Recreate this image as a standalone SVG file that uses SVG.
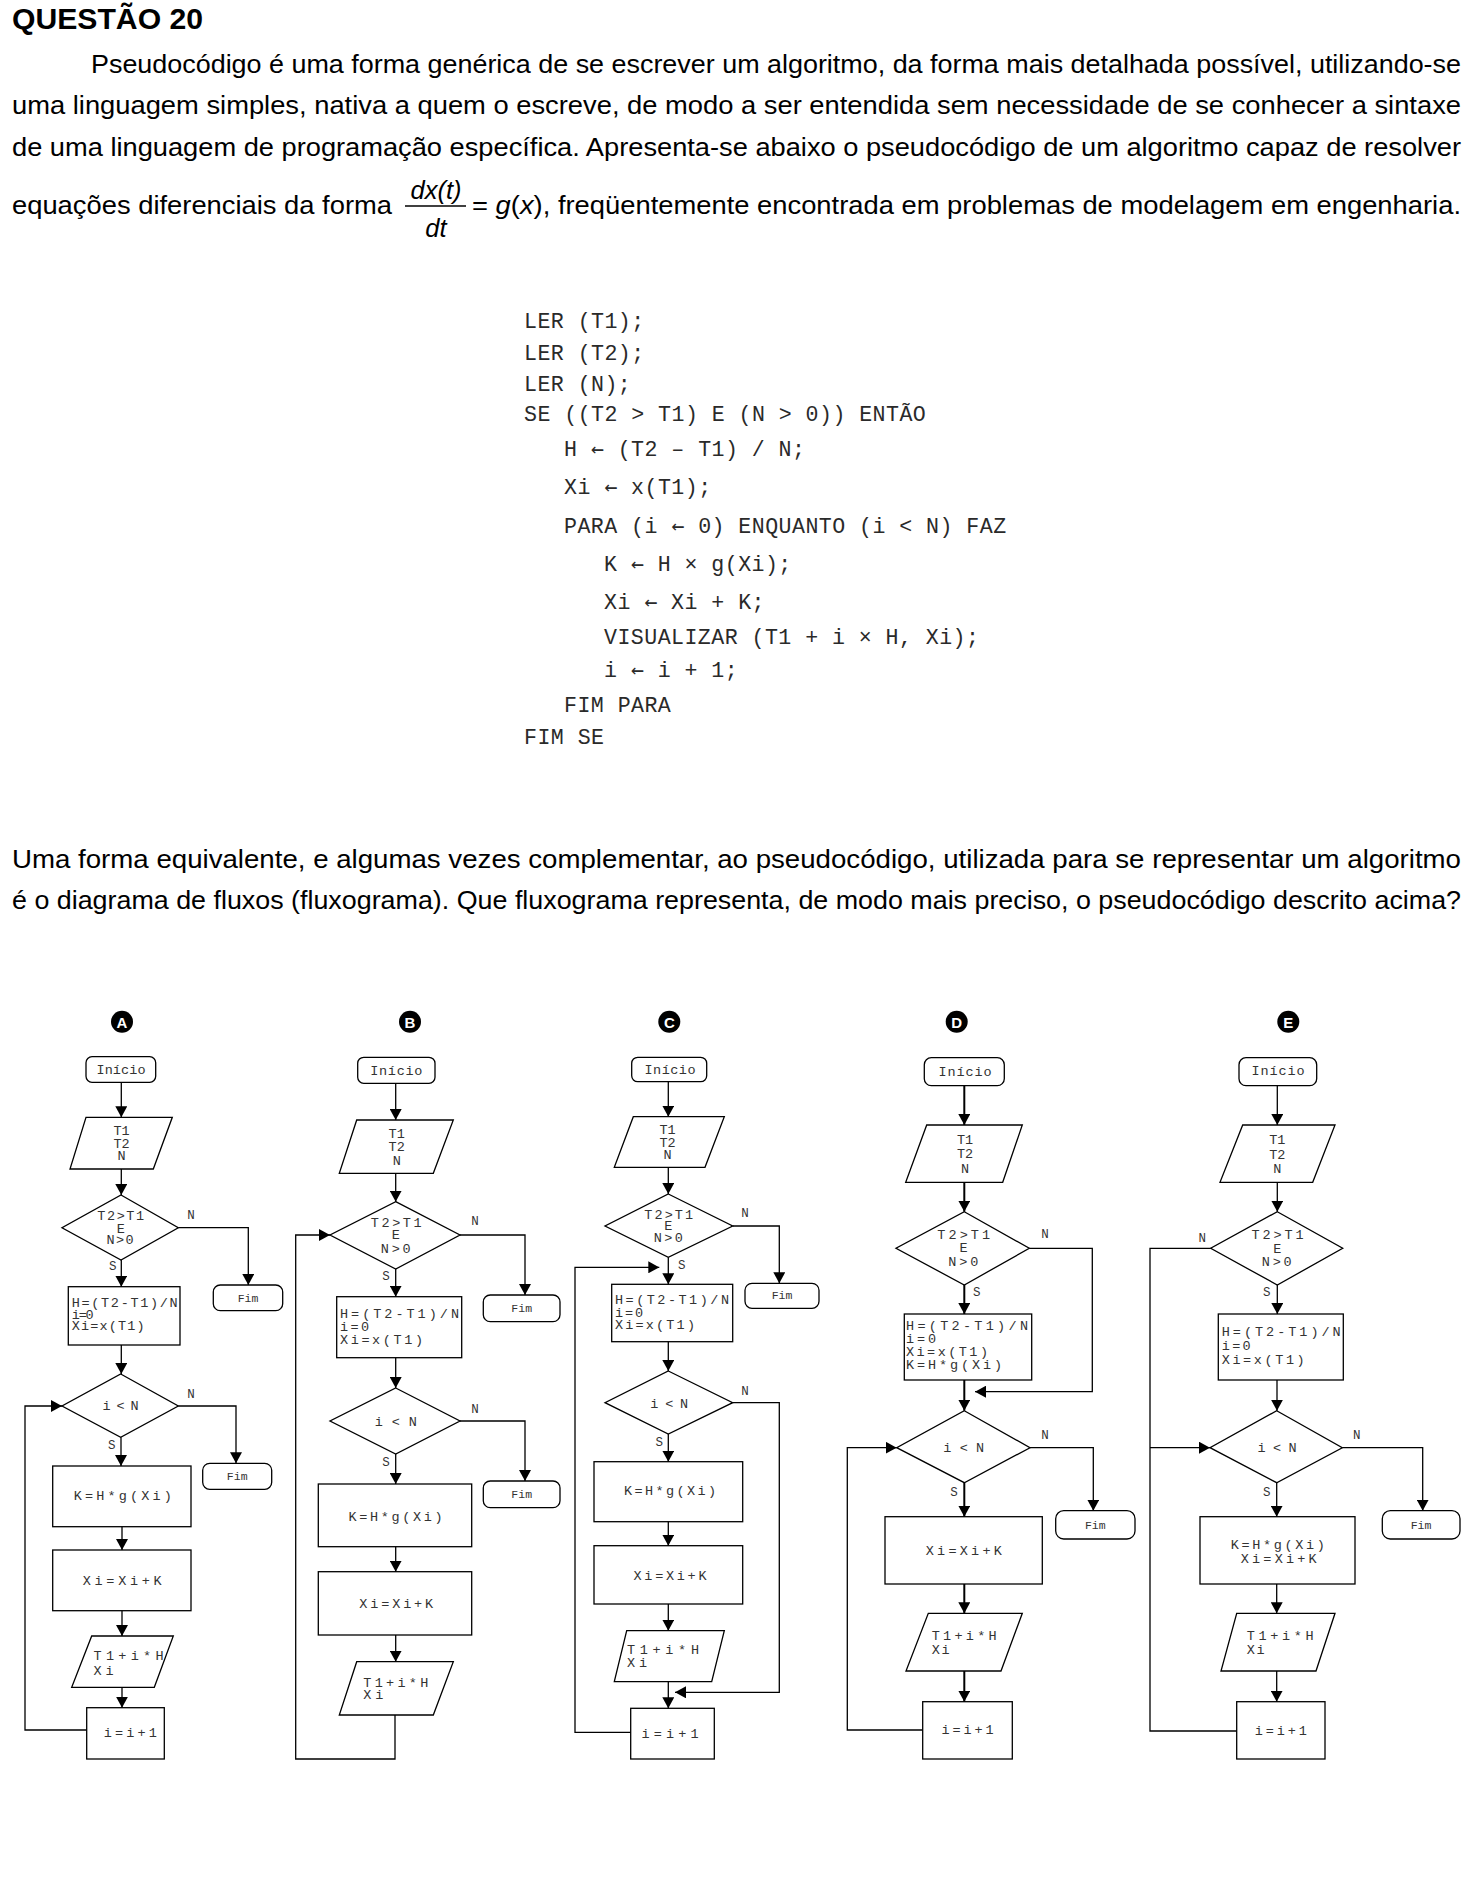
<svg xmlns="http://www.w3.org/2000/svg" width="1472" height="1894" viewBox="0 0 1472 1894">
<defs>
<marker id="ah" viewBox="0 0 11 12" refX="11" refY="6" markerWidth="11" markerHeight="12" markerUnits="userSpaceOnUse" orient="auto"><path d="M0,0 L11,6 L0,12 z" fill="#000"/></marker>
</defs>
<style>
.h{font-family:"Liberation Sans",Arial,sans-serif;font-size:25.5px;fill:#000}
.hb{font-weight:bold;font-size:29px}
.code{font-family:"Liberation Mono","DejaVu Sans Mono",monospace;font-size:21.6px;letter-spacing:0.45px;fill:#2a2a2a}
.ar{font-family:"DejaVu Sans Mono",monospace}
.n{fill:#fff;stroke:#000;stroke-width:1.3}
.t{font-family:"Liberation Mono","DejaVu Sans Mono",monospace;font-size:13.5px;fill:#333;dominant-baseline:central}
.m{text-anchor:middle}
.s{font-size:11.5px}
.lb{font-family:"Liberation Mono","DejaVu Sans Mono",monospace;font-size:12.5px;fill:#333;text-anchor:middle;dominant-baseline:central}
.e{fill:none;stroke:#000;stroke-width:1.3;marker-end:url(#ah)}
.w{stroke-width:2}
.ln{fill:none;stroke:#000;stroke-width:1.3}
.cl{fill:#000}
.ct{font-family:"Liberation Sans",Arial,sans-serif;font-weight:bold;font-size:15px;fill:#fff;text-anchor:middle;dominant-baseline:central}
</style>
<rect width="1472" height="1894" fill="#fff"/>

<g id="header">
<text class="h hb" x="12" y="29" textLength="191" lengthAdjust="spacingAndGlyphs">QUESTÃO 20</text>
<text class="h" x="91" y="73" textLength="1370" lengthAdjust="spacingAndGlyphs">Pseudocódigo é uma forma genérica de se escrever um algoritmo, da forma mais detalhada possível, utilizando-se</text>
<text class="h" x="12" y="114" textLength="1449" lengthAdjust="spacingAndGlyphs">uma linguagem simples, nativa a quem o escreve, de modo a ser entendida sem necessidade de se conhecer a sintaxe</text>
<text class="h" x="12" y="156" textLength="1449" lengthAdjust="spacingAndGlyphs">de uma linguagem de programação específica. Apresenta-se abaixo o pseudocódigo de um algoritmo capaz de resolver</text>
<text class="h" x="12" y="214" textLength="380" lengthAdjust="spacingAndGlyphs">equações diferenciais da forma</text>
<text class="h" x="436" y="199" text-anchor="middle" font-style="italic">dx(t)</text>
<line x1="405" y1="206" x2="466" y2="206" stroke="#000" stroke-width="1.3"/>
<text class="h" x="436" y="237" text-anchor="middle" font-style="italic">dt</text>
<text class="h" x="472" y="214" textLength="989" lengthAdjust="spacingAndGlyphs">= <tspan font-style="italic">g</tspan>(<tspan font-style="italic">x</tspan>), freqüentemente encontrada em problemas de modelagem em engenharia.</text>
</g>

<g id="pseudocode" class="code">
<text x="524" y="328">LER (T1);</text>
<text x="524" y="360">LER (T2);</text>
<text x="524" y="391">LER (N);</text>
<text x="524" y="421">SE ((T2 &gt; T1) E (N &gt; 0)) ENTÃO</text>
<text x="564" y="456">H <tspan class="ar">←</tspan> (T2 – T1) / N;</text>
<text x="564" y="494">Xi <tspan class="ar">←</tspan> x(T1);</text>
<text x="564" y="533">PARA (i <tspan class="ar">←</tspan> 0) ENQUANTO (i &lt; N) FAZ</text>
<text x="604" y="571">K <tspan class="ar">←</tspan> H × g(Xi);</text>
<text x="604" y="609">Xi <tspan class="ar">←</tspan> Xi + K;</text>
<text x="604" y="644">VISUALIZAR (T1 + i × H, Xi);</text>
<text x="604" y="677">i <tspan class="ar">←</tspan> i + 1;</text>
<text x="564" y="712">FIM PARA</text>
<text x="524" y="744">FIM SE</text>
</g>

<g id="question">
<text class="h" x="12" y="868" textLength="1449" lengthAdjust="spacingAndGlyphs">Uma forma equivalente, e algumas vezes complementar, ao pseudocódigo, utilizada para se representar um algoritmo</text>
<text class="h" x="12" y="909" textLength="1449" lengthAdjust="spacingAndGlyphs">é o diagrama de fluxos (fluxograma). Que fluxograma representa, de modo mais preciso, o pseudocódigo descrito acima?</text>
</g>

<!-- ===== A ===== -->
<g id="A-label"><circle class="cl" cx="122" cy="1021.7" r="11"/><text class="ct" x="122" y="1022">A</text></g>
<g id="A-inicio"><rect class="n" x="86" y="1056.7" width="69.7" height="25.6" rx="6"/><text class="t m" x="121" y="1070" textLength="49">Início</text></g>
<g id="A-leitura"><polygon class="n" points="86,1117.3 172.3,1117.3 153.3,1169 70,1169"/><text class="t m" x="121.5" y="1131.7">T1</text><text class="t m" x="121.5" y="1144.3">T2</text><text class="t m" x="121.5" y="1156.7">N</text></g>
<g id="A-cond1"><polygon class="n" points="121,1195 178.3,1227.7 121,1260 62,1227.7"/><text class="t m" x="120.7" y="1216.7" textLength="47">T2&gt;T1</text><text class="t m" x="120.7" y="1229">E</text><text class="t m" x="120" y="1240.7" textLength="27">N&gt;0</text></g>
<g id="A-fim1"><rect class="n" x="213.3" y="1285" width="69.4" height="25.7" rx="7"/><text class="t m s" x="248" y="1298">Fim</text></g>
<g id="A-init"><rect class="n" x="68.3" y="1286.7" width="111.7" height="58.3"/><text class="t" x="71.7" y="1303.3" textLength="106">H=(T2-T1)/N</text><text class="t" x="71.7" y="1315" textLength="22">i=0</text><text class="t" x="71.7" y="1326.7" textLength="73">Xi=x(T1)</text></g>
<g id="A-cond2"><polygon class="n" points="120.7,1374 178.3,1406 120.7,1437.3 62,1406"/><text class="t m" x="120.5" y="1406.7" textLength="36">i &lt; N</text></g>
<g id="A-fim2"><rect class="n" x="202.7" y="1463.3" width="69" height="26" rx="7"/><text class="t m s" x="237.2" y="1476.3">Fim</text></g>
<g id="A-k"><rect class="n" x="52.7" y="1466" width="138.3" height="60.7"/><text class="t m" x="122.8" y="1496" textLength="98">K=H*g(Xi)</text></g>
<g id="A-xi"><rect class="n" x="52.7" y="1550" width="138.3" height="60.7"/><text class="t m" x="122.2" y="1581.7" textLength="79">Xi=Xi+K</text></g>
<g id="A-saida"><polygon class="n" points="91.7,1636 173.3,1636 154.3,1687.3 71.7,1687.3"/><text class="t" x="93.5" y="1656.7" textLength="70">T1+i*H</text><text class="t" x="93.5" y="1671" textLength="20">Xi</text></g>
<g id="A-inc"><rect class="n" x="86.7" y="1707.7" width="77.6" height="51.3"/><text class="t m" x="130.3" y="1733.3" textLength="53">i=i+1</text></g>
<g id="A-connectors">
<path class="e" d="M121.3,1082.3 V1117.3"/>
<path class="e" d="M121.3,1169 V1195"/>
<path class="e" d="M178.3,1227.7 H248.3 V1285"/>
<path class="e" d="M121.3,1260 V1286.7"/>
<path class="e" d="M121.3,1345 V1374"/>
<path class="e" d="M178.3,1406 H236 V1463.3"/>
<path class="e" d="M121,1437.3 V1466"/>
<path class="e" d="M122,1526.7 V1550"/>
<path class="e" d="M122,1610.7 V1636"/>
<path class="e" d="M122,1687.3 V1707.7"/>
<path class="e" d="M86.7,1730 H25 V1406 H62"/>
<text class="lb" x="191" y="1215.7">N</text>
<text class="lb" x="112.7" y="1267.3">S</text>
<text class="lb" x="191" y="1395">N</text>
<text class="lb" x="111.7" y="1446">S</text>
</g>

<!-- ===== B ===== -->
<g id="B-label"><circle class="cl" cx="410" cy="1021.7" r="11"/><text class="ct" x="410" y="1022">B</text></g>
<g id="B-inicio"><rect class="n" x="357.7" y="1057.3" width="77.3" height="26" rx="6"/><text class="t m" x="396.3" y="1071" textLength="52">Início</text></g>
<g id="B-leitura"><polygon class="n" points="356.7,1120 453.3,1120 433.3,1173.3 339.3,1173.3"/><text class="t m" x="396.7" y="1134">T1</text><text class="t m" x="396.7" y="1147.3">T2</text><text class="t m" x="396.7" y="1161">N</text></g>
<g id="B-cond1"><polygon class="n" points="395.7,1201.7 460,1235 395.7,1269 330,1235"/><text class="t m" x="396.2" y="1223.3" textLength="51">T2&gt;T1</text><text class="t m" x="395.7" y="1235.7">E</text><text class="t m" x="395.7" y="1249" textLength="30">N&gt;0</text></g>
<g id="B-fim1"><rect class="n" x="483.3" y="1295" width="76.7" height="26.7" rx="7"/><text class="t m s" x="521.7" y="1308.3">Fim</text></g>
<g id="B-init"><rect class="n" x="336.7" y="1296.7" width="125" height="61"/><text class="t" x="340" y="1314" textLength="119">H=(T2-T1)/N</text><text class="t" x="340" y="1327.3" textLength="29">i=0</text><text class="t" x="340" y="1340.7" textLength="83">Xi=x(T1)</text></g>
<g id="B-cond2"><polygon class="n" points="395.7,1388 460,1421 395.7,1454 330,1421"/><text class="t m" x="395.8" y="1422.7" textLength="42">i &lt; N</text></g>
<g id="B-fim2"><rect class="n" x="483.3" y="1481" width="76.7" height="26.7" rx="7"/><text class="t m s" x="521.7" y="1494.3">Fim</text></g>
<g id="B-k"><rect class="n" x="318.3" y="1484" width="153.4" height="62.7"/><text class="t m" x="395.5" y="1517.3" textLength="94">K=H*g(Xi)</text></g>
<g id="B-xi"><rect class="n" x="318.3" y="1571.7" width="153.4" height="63.3"/><text class="t m" x="396.2" y="1604" textLength="74">Xi=Xi+K</text></g>
<g id="B-saida"><polygon class="n" points="356.7,1661.7 453.3,1661.7 433.3,1715 339.3,1715"/><text class="t" x="363.3" y="1683.3" textLength="65">T1+i*H</text><text class="t" x="363.3" y="1695.7" textLength="20">Xi</text></g>
<g id="B-connectors">
<path class="e" d="M395.7,1083.3 V1120"/>
<path class="e" d="M395.7,1173.3 V1201.7"/>
<path class="e" d="M460,1235 H525 V1295"/>
<path class="e" d="M395.7,1269 V1296.7"/>
<path class="e" d="M395.7,1357.7 V1388"/>
<path class="e" d="M460,1421 H525 V1481"/>
<path class="e" d="M395.7,1454 V1484"/>
<path class="e" d="M395.7,1546.7 V1571.7"/>
<path class="e" d="M395.7,1635 V1661.7"/>
<path class="e" d="M395,1715 V1759 H295.7 V1235 H330"/>
<text class="lb" x="475" y="1221.7">N</text>
<text class="lb" x="386" y="1277.3">S</text>
<text class="lb" x="475" y="1410">N</text>
<text class="lb" x="386" y="1463.3">S</text>
</g>

<!-- ===== C ===== -->
<g id="C-label"><circle class="cl" cx="669.3" cy="1021.7" r="11"/><text class="ct" x="669.3" y="1022">C</text></g>
<g id="C-inicio"><rect class="n" x="631.7" y="1057.3" width="75" height="24.4" rx="6"/><text class="t m" x="670" y="1070" textLength="51">Início</text></g>
<g id="C-leitura"><polygon class="n" points="633.3,1116.7 724.3,1116.7 705,1167.3 614.3,1167.3"/><text class="t m" x="667.5" y="1130">T1</text><text class="t m" x="667.5" y="1143.3">T2</text><text class="t m" x="667.5" y="1155.7">N</text></g>
<g id="C-cond1"><polygon class="n" points="668.3,1194 732.7,1226 668.3,1257.3 605,1226"/><text class="t m" x="668.7" y="1215" textLength="49">T2&gt;T1</text><text class="t m" x="668.3" y="1226.7">E</text><text class="t m" x="668.3" y="1238.3" textLength="29">N&gt;0</text></g>
<g id="C-fim1"><rect class="n" x="745" y="1283.3" width="74" height="25" rx="7"/><text class="t m s" x="782" y="1295.8">Fim</text></g>
<g id="C-init"><rect class="n" x="611.7" y="1284.3" width="121" height="57.4"/><text class="t" x="615" y="1300.7" textLength="114">H=(T2-T1)/N</text><text class="t" x="615" y="1313.3" textLength="28">i=0</text><text class="t" x="615" y="1325" textLength="80">Xi=x(T1)</text></g>
<g id="C-cond2"><polygon class="n" points="668.3,1371 732.7,1402.7 668.3,1434 605,1402.7"/><text class="t m" x="669.2" y="1404" textLength="38">i &lt; N</text></g>
<g id="C-k"><rect class="n" x="594" y="1461.7" width="148.7" height="60"/><text class="t m" x="670" y="1491.7" textLength="92">K=H*g(Xi)</text></g>
<g id="C-xi"><rect class="n" x="594" y="1545.7" width="148.7" height="58.3"/><text class="t m" x="670" y="1576" textLength="73">Xi=Xi+K</text></g>
<g id="C-saida"><polygon class="n" points="626.7,1630.7 724.3,1630.7 711.7,1681.7 614.3,1681.7"/><text class="t" x="627" y="1650.7" textLength="72">T1+i*H</text><text class="t" x="627" y="1663.3" textLength="20">Xi</text></g>
<g id="C-inc"><rect class="n" x="630.7" y="1708.3" width="83.6" height="50.7"/><text class="t m" x="670" y="1734.3" textLength="57">i=i+1</text></g>
<g id="C-connectors">
<path class="e" d="M668.3,1081.7 V1116.7"/>
<path class="e" d="M668.3,1167.3 V1194"/>
<path class="e" d="M732.7,1226 H779.3 V1283.3"/>
<path class="e" d="M668.3,1257.3 V1284.3"/>
<path class="e" d="M668.3,1341.7 V1371"/>
<path class="e" d="M732.7,1402.7 H779.3 V1692.3 H675"/>
<path class="e" d="M668.3,1434 V1461.7"/>
<path class="e" d="M668.3,1521.7 V1545.7"/>
<path class="e" d="M668.3,1604 V1630.7"/>
<path class="e" d="M668.3,1681.7 V1708.3"/>
<path class="e" d="M630.7,1732.3 H575 V1267.3 H659.3"/>
<text class="lb" x="745" y="1214">N</text>
<text class="lb" x="681.7" y="1265.7">S</text>
<text class="lb" x="745" y="1391.7">N</text>
<text class="lb" x="659.3" y="1442.7">S</text>
</g>

<!-- ===== D ===== -->
<g id="D-label"><circle class="cl" cx="956.7" cy="1021.7" r="11"/><text class="ct" x="956.7" y="1022">D</text></g>
<g id="D-inicio"><rect class="n" x="924.3" y="1057.7" width="80" height="28" rx="7"/><text class="t m" x="965" y="1072.3" textLength="53">Início</text></g>
<g id="D-leitura"><polygon class="n" points="926.7,1125 1022.3,1125 1002.7,1182.3 905.7,1182.3"/><text class="t m" x="965" y="1140.7">T1</text><text class="t m" x="965" y="1154.3">T2</text><text class="t m" x="965" y="1169">N</text></g>
<g id="D-cond1"><polygon class="n" points="964.3,1211.7 1029.3,1248.3 964.3,1285 896,1248.3"/><text class="t m" x="963.7" y="1235.7" textLength="53">T2&gt;T1</text><text class="t m" x="963.5" y="1248.3">E</text><text class="t m" x="963.3" y="1262.3" textLength="30">N&gt;0</text></g>
<g id="D-init"><rect class="n" x="904.3" y="1314" width="127.4" height="66"/><text class="t" x="906" y="1326.7" textLength="122">H=(T2-T1)/N</text><text class="t" x="906" y="1339.3" textLength="30">i=0</text><text class="t" x="906" y="1352.3" textLength="82">Xi=x(T1)</text><text class="t" x="906" y="1365" textLength="96">K=H*g(Xi)</text></g>
<g id="D-cond2"><polygon class="n" points="964.3,1410.7 1030,1447.7 964.3,1482.7 896.7,1447.7"/><text class="t m" x="963.7" y="1448.3" textLength="41">i &lt; N</text></g>
<g id="D-fim"><rect class="n" x="1055.7" y="1510.7" width="79.3" height="28.3" rx="8"/><text class="t m s" x="1095.3" y="1525">Fim</text></g>
<g id="D-xi"><rect class="n" x="885" y="1516.7" width="157.3" height="67.3"/><text class="t m" x="963.8" y="1551.7" textLength="76">Xi=Xi+K</text></g>
<g id="D-saida"><polygon class="n" points="928.3,1613.3 1022.3,1613.3 1001,1671 906,1671"/><text class="t" x="931.7" y="1636" textLength="65">T1+i*H</text><text class="t" x="931.7" y="1650.7" textLength="18">Xi</text></g>
<g id="D-inc"><rect class="n" x="922.7" y="1701.7" width="89.6" height="57.3"/><text class="t m" x="967.5" y="1730" textLength="52">i=i+1</text></g>
<g id="D-connectors">
<path class="e w" d="M964.3,1085.7 V1125"/>
<path class="e w" d="M964.3,1182.3 V1211.7"/>
<path class="e" d="M1029.3,1248.3 H1092.3 V1391.7 H975"/>
<path class="e w" d="M964.3,1285 V1314"/>
<path class="e w" d="M964.3,1380 V1410.7"/>
<path class="e" d="M1030,1447.7 H1093.3 V1510.7"/>
<path class="e w" d="M964.3,1482.7 V1516.7"/>
<path class="e w" d="M964.3,1584 V1613.3"/>
<path class="e w" d="M964.3,1671 V1701.7"/>
<path class="e" d="M922.7,1730 H847.3 V1447.7 H896.7"/>
<text class="lb" x="1045" y="1235">N</text>
<text class="lb" x="976.7" y="1292.7">S</text>
<text class="lb" x="1045" y="1436">N</text>
<text class="lb" x="954" y="1492.7">S</text>
</g>

<!-- ===== E ===== -->
<g id="E-label"><circle class="cl" cx="1288.3" cy="1021.7" r="11"/><text class="ct" x="1288.3" y="1022">E</text></g>
<g id="E-inicio"><rect class="n" x="1239" y="1057.7" width="77.7" height="28" rx="7"/><text class="t m" x="1278" y="1071.7" textLength="53">Início</text></g>
<g id="E-leitura"><polygon class="n" points="1242.7,1125 1335,1125 1312.7,1182.3 1220,1182.3"/><text class="t m" x="1277.3" y="1140.7">T1</text><text class="t m" x="1277.3" y="1155">T2</text><text class="t m" x="1277.3" y="1169">N</text></g>
<g id="E-cond1"><polygon class="n" points="1277.3,1211.7 1342.7,1248.3 1277.3,1285 1210.7,1248.3"/><text class="t m" x="1277.5" y="1235.7" textLength="52">T2&gt;T1</text><text class="t m" x="1277.3" y="1249">E</text><text class="t m" x="1276.7" y="1262.7" textLength="30">N&gt;0</text></g>
<g id="E-init"><rect class="n" x="1218.3" y="1314" width="125" height="66"/><text class="t" x="1221.7" y="1332.3" textLength="119">H=(T2-T1)/N</text><text class="t" x="1221.7" y="1346" textLength="29">i=0</text><text class="t" x="1221.7" y="1360" textLength="83">Xi=x(T1)</text></g>
<g id="E-cond2"><polygon class="n" points="1276.7,1410.7 1342.3,1447.7 1276.7,1482.7 1210,1447.7"/><text class="t m" x="1277" y="1448.3" textLength="39">i &lt; N</text></g>
<g id="E-fim"><rect class="n" x="1382.3" y="1510.7" width="77.7" height="28.3" rx="8"/><text class="t m s" x="1421" y="1525.3">Fim</text></g>
<g id="E-kxi"><rect class="n" x="1200" y="1516.7" width="155" height="67.3"/><text class="t m" x="1277.8" y="1545.7" textLength="94">K=H*g(Xi)</text><text class="t m" x="1278.7" y="1559" textLength="76">Xi=Xi+K</text></g>
<g id="E-saida"><polygon class="n" points="1236.7,1613.3 1335,1613.3 1316,1671 1221,1671"/><text class="t" x="1246.7" y="1636" textLength="67">T1+i*H</text><text class="t" x="1246.7" y="1650.7" textLength="18">Xi</text></g>
<g id="E-inc"><rect class="n" x="1236.7" y="1701.7" width="88.3" height="57.3"/><text class="t m" x="1280.8" y="1731.7" textLength="52">i=i+1</text></g>
<g id="E-connectors">
<path class="e" d="M1277.3,1085.7 V1125"/>
<path class="e" d="M1277.3,1182.3 V1211.7"/>
<path class="ln" d="M1210.7,1248.3 H1150 V1731 H1236.7"/>
<path class="e" d="M1150,1447.7 H1210"/>
<path class="e" d="M1277.3,1285 V1314"/>
<path class="e" d="M1277,1380 V1410.7"/>
<path class="e" d="M1342.3,1447.7 H1422.7 V1510.7"/>
<path class="e" d="M1276.7,1482.7 V1516.7"/>
<path class="e" d="M1276.7,1584 V1613.3"/>
<path class="e" d="M1276.7,1671 V1701.7"/>
<text class="lb" x="1202.3" y="1239.3">N</text>
<text class="lb" x="1266.7" y="1292.7">S</text>
<text class="lb" x="1356.7" y="1436">N</text>
<text class="lb" x="1266.7" y="1492.7">S</text>
</g>
</svg>
